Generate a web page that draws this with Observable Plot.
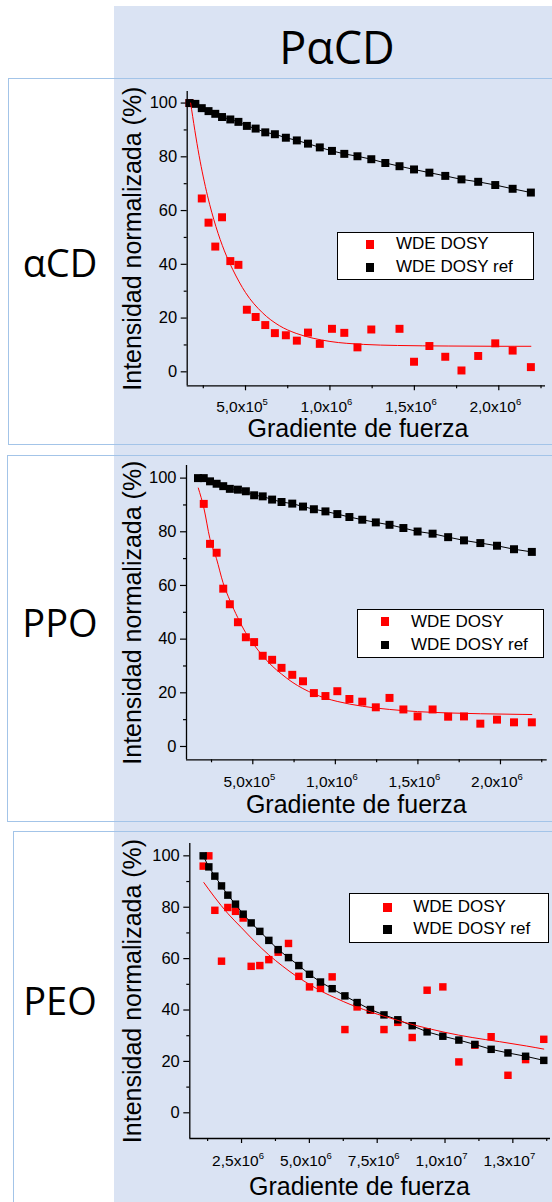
<!DOCTYPE html>
<html><head><meta charset="utf-8">
<script src="https://cdn.jsdelivr.net/npm/d3@7"></script>
<script src="https://cdn.jsdelivr.net/npm/@observablehq/plot@0.6"></script>
<style>
html,body{margin:0;padding:0;background:#fff;}
body{width:552px;height:1202px;position:relative;overflow:hidden;font-family:"Liberation Sans",Arial,sans-serif;}
.abs{position:absolute;}
#panel{left:114px;top:6px;width:438px;height:1196px;background:#dae3f3;}
.box{border:1.3px solid #a3c4e8;box-sizing:border-box;}
.big{font-family:"Open Sans",sans-serif;color:#000;line-height:1;white-space:nowrap;transform:translateX(-50%);}
.legend{background:#fff;border:1.2px solid #000;box-sizing:border-box;}
.mk{position:absolute;width:8.5px;height:8.5px;}
.lt{position:absolute;font-size:17px;line-height:17px;white-space:nowrap;color:#000;}
</style>
</head><body>
<div id="panel" class="abs"></div>
<div class="abs box" style="left:8px;top:78px;width:560px;height:367px;"></div>
<div class="abs box" style="left:7px;top:455px;width:560px;height:367px;"></div>
<div class="abs box" style="left:13px;top:831px;width:560px;height:400px;"></div>
<div class="abs big" style="left:337px;top:24px;font-size:45px;">PαCD</div>
<div id="rows"></div>
<div id="charts"></div>
<script>
// ---------- data ----------
const rowNames = ["αCD", "PPO", "PEO"];
const serieNames = ["WDE DOSY", "WDE DOSY ref"];
const yTitle = "Intensidad normalizada (%)";
const xTitle = "Gradiente de fuerza";

// gradient values shared by αCD and PPO
const gradA = [1.68e5, 2.03e5, 2.41e5, 2.81e5, 3.21e5, 3.61e5, 4.10e5, 4.58e5, 5.08e5, 5.60e5,
  6.17e5, 6.74e5, 7.39e5, 8.04e5, 8.70e5, 9.40e5, 1.012e6, 1.085e6, 1.163e6, 1.245e6,
  1.328e6, 1.412e6, 1.498e6, 1.589e6, 1.683e6, 1.779e6, 1.878e6, 1.979e6, 2.082e6, 2.190e6];

const acdRef = [100, 99.7, 98.1, 97.0, 96.0, 94.8, 93.9, 93.0, 91.5, 90.5, 89.1, 88.4, 87.1, 86.1, 84.9,
  83.5, 82.2, 81.1, 80.2, 79.1, 77.7, 76.5, 75.3, 74.1, 72.9, 71.6, 70.7, 69.5, 68.1, 66.7];
const acdWde = [100, null, 64.5, 55.5, 46.6, 57.5, 41.2, 39.8, 23.1, 20.4, 17.4, 14.4, 13.6, 11.6, 14.6,
  10.4, 16.0, 14.5, 9.1, 15.75, null, 16.0, 3.75, 9.6, 5.6, 0.5, 5.9, 10.6, 7.9, 1.75];
const acdFitX = [1.75e5, 2.25e5, 2.75e5, 3.25e5, 3.75e5, 4.25e5, 5.0e5, 6.0e5, 7.0e5, 8.0e5, 9.0e5,
  1.0e6, 1.2e6, 1.4e6, 1.7e6, 2.0e6, 2.19e6];
const acdFitY = [100, 80.5, 65.5, 54, 45, 38, 29.5, 22, 17.2, 14.3, 12.5, 11.3, 10.2, 9.8, 9.6, 9.5, 9.5];

const ppoRef = [100, 100, 98.8, 97.9, 97.0, 96.0, 95.7, 95.1, 93.6, 93.2, 92.0, 91.1, 90.5, 89.4, 88.4,
  87.6, 86.6, 85.5, 84.5, 83.5, 82.6, 81.4, 80.1, 79.3, 78.0, 76.8, 75.8, 74.8, 73.5, 72.5];
const ppoWde = [null, 90.4, 75.5, 72.2, 58.8, 53.0, 46.3, 40.7, 38.9, 33.8, 32.3, 29.3, 26.7, 24.3, 19.9,
  18.8, 20.6, 17.7, 16.7, 14.6, 18.1, 13.8, 11.2, 13.8, 11.1, 11.2, 8.5, 10.0, 9.0, 9.0];
const ppoFitX = [1.70e5, 2.05e5, 2.40e5, 2.80e5, 3.20e5, 3.61e5, 4.09e5, 4.56e5, 5.06e5, 5.57e5, 6.17e5,
  6.74e5, 7.38e5, 8.03e5, 8.71e5, 9.40e5, 1.011e6, 1.163e6, 1.328e6, 1.498e6, 1.683e6, 1.878e6, 2.082e6, 2.19e6];
const ppoFitY = [96.3, 88.5, 77.5, 70, 61, 54.5, 48, 42.5, 38, 34, 30, 27, 24, 21.6, 19.6, 18, 16.8, 15,
  13.8, 13, 12.5, 12.2, 12.0, 11.9];

const gradP = [1.086e6, 1.295e6, 1.516e6, 1.762e6, 1.995e6, 2.278e6, 2.560e6, 2.855e6, 3.174e6, 3.506e6,
  3.850e6, 4.231e6, 4.612e6, 5.005e6, 5.41e6, 5.84e6, 6.31e6, 6.76e6, 7.25e6, 7.75e6,
  8.26e6, 8.79e6, 9.34e6, 9.92e6, 1.051e7, 1.110e7, 1.170e7, 1.232e7, 1.297e7, 1.364e7];
const peoRef = [100, 95.7, 92.1, 88.3, 84.7, 81.2, 77.3, 73.9, 70.6, 67.1, 63.5, 60.4, 57.3, 53.9, 50.9,
  48.3, 45.5, 42.9, 40.2, 38.1, 36.2, 33.9, 31.5, 29.8, 28.3, 26.6, 24.7, 23.3, 22.0, 20.4];
const peoWde = [96.0, 100, 78.8, 59.0, 79.9, 78.4, 75.8, 57.0, 57.3, 59.6, 62.5, 65.9, 53.1, 49.0, 48.4,
  52.9, 32.4, 41.2, 39.9, 32.4, 35.2, 29.3, 47.7, 49.0, 19.8, 26.3, 29.6, 14.6, 20.7, 28.6];
const peoFitX = [1.11e6, 1.5e6, 2.0e6, 2.5e6, 3.0e6, 3.5e6, 4.0e6, 4.5e6, 5.0e6, 5.5e6, 6.0e6, 6.5e6,
  7.0e6, 7.5e6, 8.0e6, 8.5e6, 9.0e6, 9.5e6, 1.0e7, 1.1e7, 1.2e7, 1.3e7, 1.364e7];
const peoFitY = [89.6, 84, 77.5, 72, 66.5, 61.5, 57.2, 53.3, 50, 47, 44.5, 42.2, 40.2, 38.4, 36.8, 35.2,
  33.8, 32.5, 31.3, 29.3, 27.7, 26.0, 24.8];

const yMajor = [0, 20, 40, 60, 80, 100];
const yMinor = [10, 30, 50, 70, 90];
const xMajorA = [5e5, 1e6, 1.5e6, 2e6];
const xMinorA = [2.5e5, 7.5e5, 1.25e6, 1.75e6, 2.25e6];
const xLabelsA = ["5,0x10^5", "1,0x10^6", "1,5x10^6", "2,0x10^6"];
const xMajorP = [2.5e6, 5e6, 7.5e6, 1e7, 1.25e7];
const xMinorP = [1.25e6, 3.75e6, 6.25e6, 8.75e6, 1.125e7, 1.375e7];
const xLabelsP = ["2,5x10^6", "5,0x10^6", "7,5x10^6", "1,0x10^7", "1,3x10^7"];

// ---------- layout ----------
const charts = [
  {name: rowNames[0], gx: gradA, ref: acdRef, wde: acdWde, fitX: acdFitX, fitY: acdFitY,
   xMajor: xMajorA, xMinor: xMinorA, xLabels: xLabelsA,
   fl: 186.7, fr: 545, ft: 90.7, fb: 385, xDomain: [1.547e5, 2.2766e6], yDomain: [-5.2, 104.3],
   r: 4.5, tickPad: 10.3, xTitleDx: -8.4, xTitleDy: 51.7, rowTop: 243,
   legend: {l: 336.7, t: 232.3, w: 197.3, h: 47.7, mx: 370, tx: 396, y1: 244.3, y2: 267.3}},
  {name: rowNames[1], gx: gradA, ref: ppoRef, wde: ppoWde, fitX: ppoFitX, fitY: ppoFitY,
   xMajor: xMajorA, xMinor: xMinorA, xLabels: xLabelsA,
   fl: 186, fr: 546.7, ft: 465, fb: 759.3, xDomain: [0.985e5, 2.283e6], yDomain: [-4.96, 104.7],
   r: 4.5, tickPad: 11.3, xTitleDx: -10.5, xTitleDy: 53.4, rowTop: 603,
   legend: {l: 356.7, t: 609, w: 187.3, h: 49.3, mx: 385, tx: 411, y1: 621.7, y2: 645}},
  {name: rowNames[2], gx: gradP, ref: peoRef, wde: peoWde, fitX: peoFitX, fitY: peoFitY,
   xMajor: xMajorP, xMinor: xMinorP, xLabels: xLabelsP,
   fl: 189.3, fr: 550, ft: 843.3, fb: 1138.3, xDomain: [5.93e5, 1.3888e7], yDomain: [-10, 104.8],
   r: 4.2, tickPad: 11.5, xTitleDx: -10.7, xTitleDy: 56.7, rowTop: 981,
   legend: {l: 349.3, t: 893.3, w: 199.7, h: 49.4, mx: 387.3, tx: 413.3, y1: 907.3, y2: 929.3}}
];

const rowsEl = document.getElementById("rows");
const chartsEl = document.getElementById("charts");
const NS = "http://www.w3.org/2000/svg";

for (const c of charts) {
  const lab = document.createElement("div");
  lab.className = "abs big";
  lab.style.cssText = `left:60px;top:${c.rowTop}px;font-size:38px;`;
  lab.textContent = c.name;
  rowsEl.appendChild(lab);

  const mt = 14, mb = 72;
  const height = c.fb - c.ft + mt + mb;
  const refData = c.gx.map((x, i) => ({x, y: c.ref[i]}));
  const wdeData = c.gx.map((x, i) => ({x, y: c.wde[i]})).filter(d => d.y != null);
  const fitData = c.fitX.map((x, i) => ({x, y: c.fitY[i]}));
  const labMap = new Map(c.xMajor.map((v, i) => [v, c.xLabels[i]]));

  const svg = Plot.plot({
    width: 552, height,
    marginLeft: c.fl, marginRight: 552 - c.fr, marginTop: mt, marginBottom: mb,
    x: {domain: c.xDomain},
    y: {domain: c.yDomain},
    style: {background: "transparent", overflow: "visible", color: "#000",
            fontFamily: "'Liberation Sans', Arial, sans-serif"},
    marks: [
      Plot.axisY({ticks: yMinor, tickSize: 3, tickFormat: () => "", label: null, strokeWidth: 1.2}),
      Plot.axisY({ticks: yMajor, tickSize: 6, tickPadding: 4, fontSize: 16.5, label: null, strokeWidth: 1.2}),
      Plot.axisX({ticks: c.xMinor, tickSize: 3, tickFormat: () => "", label: null, strokeWidth: 1.2}),
      Plot.axisX({ticks: c.xMajor, tickSize: 5, tickPadding: c.tickPad, fontSize: 15.5,
                  tickFormat: d => labMap.get(d), label: null, strokeWidth: 1.2}),
      Plot.ruleX([c.xDomain[0]], {strokeWidth: 1.3}),
      Plot.ruleY([c.yDomain[0]], {strokeWidth: 1.3}),
      Plot.text([yTitle], {text: d => d, frameAnchor: "left", rotate: -90, lineAnchor: "top",
                 textAnchor: "middle", dx: 123 - c.fl, fontSize: 25, fill: "#000"}),
      Plot.text([xTitle], {text: d => d, frameAnchor: "bottom", lineAnchor: "bottom",
                 textAnchor: "middle", dx: c.xTitleDx, dy: c.xTitleDy, fontSize: 25, fill: "#000"}),
      Plot.dot(wdeData, {x: "x", y: "y", symbol: "square", r: c.r, fill: "#ff0000", stroke: "none"}),
      Plot.line(refData, {x: "x", y: "y", stroke: "#000", strokeWidth: 1}),
      Plot.dot(refData, {x: "x", y: "y", symbol: "square", r: c.r, fill: "#000", stroke: "none"}),
      Plot.line(fitData, {x: "x", y: "y", stroke: "#ff0000", strokeWidth: 1, curve: "monotone-x"})
    ]
  });

  // superscript exponents in x tick labels
  svg.querySelectorAll('[aria-label="x-axis tick label"] text').forEach(t => {
    const s = t.textContent;
    if (!s.includes("^")) return;
    const [base, exp] = s.split("^");
    t.textContent = "";
    const b = document.createElementNS(NS, "tspan"); b.textContent = base;
    const e = document.createElementNS(NS, "tspan"); e.textContent = exp;
    e.setAttribute("dy", "-7.5"); e.setAttribute("font-size", "9.5");
    t.appendChild(b); t.appendChild(e);
    t.setAttribute("dx", "-3.5");
  });

  const wrap = document.createElement("div");
  wrap.className = "abs";
  wrap.style.cssText = `left:0;top:${c.ft - mt}px;`;
  wrap.appendChild(svg);
  chartsEl.appendChild(wrap);

  // legend
  const L = c.legend;
  const lg = document.createElement("div");
  lg.className = "abs legend";
  lg.style.cssText = `left:${L.l}px;top:${L.t}px;width:${L.w}px;height:${L.h}px;`;
  chartsEl.appendChild(lg);
  [[L.y1, "#ff0000", serieNames[0]], [L.y2, "#000", serieNames[1]]].forEach(([yy, col, txt]) => {
    const m = document.createElement("div");
    m.className = "mk";
    m.style.cssText = `left:${L.mx - 4.25}px;top:${yy - 4.25}px;background:${col};`;
    chartsEl.appendChild(m);
    const t = document.createElement("div");
    t.className = "lt";
    t.style.left = L.tx + "px"; t.style.top = (yy - 9) + "px";
    t.textContent = txt;
    chartsEl.appendChild(t);
  });
}
</script>
</body></html>
